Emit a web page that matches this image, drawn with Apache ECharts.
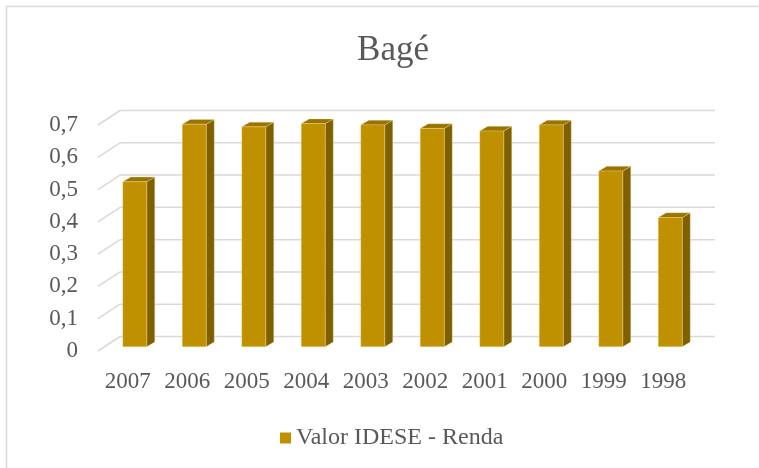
<!DOCTYPE html>
<html>
<head>
<meta charset="utf-8">
<script src="https://cdn.jsdelivr.net/npm/echarts@6/dist/echarts.min.js"></script>
<style>
  html, body { margin: 0; padding: 0; background: #fff; }
  #chart { width: 759px; height: 468px; }
</style>
</head>
<body>
<div id="chart"></div>
<script>
// dados
const years = ['2007', '2006', '2005', '2004', '2003', '2002', '2001', '2000', '1999', '1998'];
const rendaValues = [0.511, 0.689, 0.681, 0.691, 0.687, 0.676, 0.668, 0.687, 0.544, 0.40];
const yTicks = [0, 0.1, 0.2, 0.3, 0.4, 0.5, 0.6, 0.7];
const seriesName = 'Valor IDESE - Renda';

const TEXT_COLOR = '#595959';
const GRID_COLOR = '#d9d9d9';
const FRONT_COLOR = '#bf9000';
const SIDE_COLOR = '#7f6000';
const TOP_COLOR = '#9a7400';
const FONT = 'Liberation Serif';

// profundidade do "3D"
const WALL_DX = 22, WALL_DY = -14.5;
const BAR_DX = 7, BAR_DY = -4.3;
const BAR_W = 24, SIDE_DX = 8, SIDE_DY = -4.7;

const chart = echarts.init(document.getElementById('chart'), null, { renderer: 'canvas' });

// paredes: linhas de grade no fundo + diagonais do piso lateral
function renderWall(params, api) {
  const cs = params.coordSys;
  const y = api.coord([0, api.value(1)])[1];
  const x0 = cs.x;
  const x1 = cs.x + cs.width;
  const style = { stroke: GRID_COLOR, lineWidth: 1.5, fill: null };
  return {
    type: 'group',
    children: [
      { type: 'line', shape: { x1: x0, y1: y, x2: x0 + WALL_DX, y2: y + WALL_DY }, style: style },
      { type: 'line', shape: { x1: x0 + WALL_DX, y1: y + WALL_DY, x2: x1 + WALL_DX, y2: y + WALL_DY }, style: style }
    ]
  };
}

// barras com face frontal, lateral e topo
function renderBar(params, api) {
  const top = api.coord([api.value(0), api.value(1)]);
  const base = api.coord([api.value(0), 0]);
  const x = top[0] - BAR_W / 2 + BAR_DX;
  const yt = top[1] + BAR_DY;
  const yb = base[1] + BAR_DY;
  const edge = { stroke: 'rgba(255,235,170,0.5)', lineWidth: 0.6 };
  return {
    type: 'group',
    children: [
      {
        type: 'polygon',
        shape: { points: [[x + BAR_W, yt], [x + BAR_W + SIDE_DX, yt + SIDE_DY], [x + BAR_W + SIDE_DX, yb + SIDE_DY], [x + BAR_W, yb]] },
        style: Object.assign({ fill: SIDE_COLOR }, edge)
      },
      {
        type: 'polygon',
        shape: { points: [[x, yt], [x + SIDE_DX, yt + SIDE_DY], [x + BAR_W + SIDE_DX, yt + SIDE_DY], [x + BAR_W, yt]] },
        style: Object.assign({ fill: TOP_COLOR }, edge)
      },
      {
        type: 'rect',
        shape: { x: x, y: yt, width: BAR_W, height: yb - yt },
        style: Object.assign({ fill: FRONT_COLOR }, edge)
      }
    ]
  };
}

const legendText = { fontFamily: FONT, fontSize: 24, color: TEXT_COLOR };

const option = {
  backgroundColor: '#fff',
  animation: false,
  textStyle: { fontFamily: FONT },
  title: {
    text: 'Bagé',
    left: 388,
    top: 28,
    textAlign: 'center',
    textStyle: { fontFamily: FONT, fontSize: 35, fontWeight: 'normal', color: TEXT_COLOR }
  },
  legend: {
    data: [{ name: seriesName, textStyle: legendText }],
    left: 275,
    top: 421,
    icon: 'rect',
    itemWidth: 11,
    itemHeight: 11,
    itemGap: 10,
    textStyle: legendText
  },
  graphic: [{
    type: 'rect',
    shape: { x: 6.5, y: 6.5, width: 800, height: 500 },
    style: { fill: null, stroke: GRID_COLOR, lineWidth: 1.5 },
    silent: true
  }],
  grid: { left: 98, right: 66, top: 125, bottom: 117 },
  xAxis: {
    type: 'category',
    data: years,
    axisLine: { show: false },
    axisTick: { show: false },
    axisLabel: { color: TEXT_COLOR, fontFamily: FONT, fontSize: 23, margin: 19, interval: 0 }
  },
  yAxis: {
    type: 'value',
    min: 0,
    max: 0.7,
    interval: 0.1,
    splitLine: { show: false },
    axisLine: { show: false },
    axisTick: { show: false },
    axisLabel: {
      color: TEXT_COLOR, fontFamily: FONT, fontSize: 23, margin: 20,
      padding: [8, 0, 0, 0],
      formatter: function (v) { return String(Math.round(v * 10) / 10).replace('.', ','); }
    }
  },
  series: [
    {
      name: 'parede',
      type: 'custom',
      silent: true,
      z: 1,
      renderItem: renderWall,
      data: yTicks.map(function (v) { return [0, v]; })
    },
    {
      name: seriesName,
      type: 'custom',
      z: 2,
      itemStyle: { color: FRONT_COLOR },
      renderItem: renderBar,
      data: years.map(function (y, i) { return [i, rendaValues[i]]; })
    }
  ]
};

chart.setOption(option);
</script>
</body>
</html>
